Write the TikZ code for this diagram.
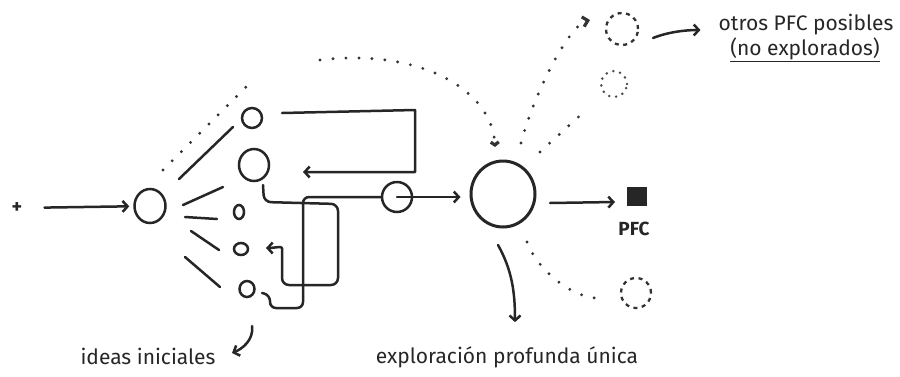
\documentclass[tikz,border=0pt]{standalone}
\usepackage{fontspec}
\setmainfont{Fira Sans}
\usetikzlibrary{arrows.meta,shapes.geometric,calc}
\begin{document}
\begin{tikzpicture}[x=1pt,y=-1pt,
  ink/.style={line width=2.5pt, line cap=round, line join=round, draw=black!85},
  arr/.style={ink, -{Straight Barb[length=5pt,width=11pt]}},
  dots/.style={line width=3.2pt, line cap=round, dash pattern=on 0pt off 13pt, draw=black!80},
  idea/.style={ellipse, draw=black!85, line width=2.5pt, inner sep=0pt},
  dcirc/.style={circle, draw=black!80, line width=2.3pt, dash pattern=on 4pt off 4.5pt, inner sep=0pt, minimum size=#1},
  lbl/.style={font=\fontsize{21}{24}\selectfont, text=black!85, inner sep=0pt}
]
\useasboundingbox (0,0) rectangle (900,376);

% nodes
\node[font=\bfseries\fontsize{20}{20}\selectfont, inner sep=0pt, text=black!85] (plus) at (17,208) {+};
\node[idea, minimum width=31pt, minimum height=34pt] (start) at (150,206) {};
\node[idea, minimum width=20pt, minimum height=20pt] (i1) at (252,118) {};
\node[idea, minimum width=30pt, minimum height=32pt] (i2) at (254,165) {};
\node[idea, minimum width=10pt, minimum height=14pt] (i3) at (239,212) {};
\node[idea, minimum width=14pt, minimum height=12pt] (i4) at (241,249) {};
\node[idea, minimum width=15pt, minimum height=16pt] (i5) at (247,289) {};
\node[idea, minimum width=30pt, minimum height=30pt] (mid) at (397,197) {};
\node[idea, line width=3pt, minimum width=64pt, minimum height=66pt] (big) at (503,194) {};
\node[fill=black!85, draw=black!85, minimum width=19pt, minimum height=18pt, inner sep=0pt] (sq) at (637,196) {};
\node[font=\bfseries\fontsize{19}{19}\selectfont, inner sep=0pt, text=black!85] (pfc) at (634,229) {PFC};
\node[dcirc=32pt] (dc1) at (622,29) {};
\node[dcirc=30pt] (dc2) at (636,293) {};
\node[circle, draw=black!70, line width=2.8pt, line cap=round, dash pattern=on 0pt off 7pt, inner sep=0pt, minimum size=26pt] (dc3) at (614,84) {};

\node[lbl] (oth1) at (806,25) {otros PFC posibles};
\node[lbl] (oth2) at (805,50) {\underline{(no explorados)}};
\node[lbl] (ideas) at (148,356) {ideas iniciales};
\node[lbl] (expl) at (507,357) {exploración profunda única};

% input arrow
\draw[arr, shorten <=22pt, shorten >=4pt] (plus) -- (start);

% fan of lines
\draw[ink] ([shift={(29,-27)}]start.center) -- ([shift={(-19,9)}]i1.center);
\draw[ink] ([shift={(33,-1)}]start.center) -- ([shift={(-31,22)}]i2.center);
\draw[ink] ([shift={(35,11)}]start.center) -- ([shift={(-22,7)}]i3.center);
\draw[ink] ([shift={(41,25)}]start.center) -- ([shift={(-22,1)}]i4.center);
\draw[ink] ([shift={(35,51)}]start.center) -- ([shift={(-27,-2)}]i5.center);
\draw[dots] ([shift={(13,-36)}]start.center) -- ([shift={(-6,-31)}]i1.center);

% loops among ideas
\draw[arr] ([shift={(30,-5)}]i1.center) -- ++(133,-3) |- ([shift={(49,7)}]i2.center);
\draw[arr, rounded corners=7pt] ([shift={(9,20)}]i2.center) -- ++(1,17) -- ++(74,2) -- ++(0,81) -- ++(-56,0) -- ++(0,-30) .. controls +(0,-9) and +(7,0) .. ([shift={(25,-1)}]i4.center);
\draw[ink, rounded corners=6pt] ([shift={(15,4)}]i5.center) -- ++(8,2) -- ++(0,13) -- ++(33,0) |- (mid.west);

% to the deep exploration
\draw[arr, shorten >=9pt] (mid.center) -- (mid.center -| big.west);
\draw[arr] ([shift={(47,9)}]big.center) -- ([shift={(-22,6)}]sq.center);
\draw[arr] ([shift={(-5,51)}]big.center) .. controls +(14,25) and +(0,-30) .. ([shift={(8,-24)}]expl.north);

% dotted alternatives
\coordinate (arc0) at (320,60);
\draw[dots, -{Straight Barb[length=3pt,width=8pt]}] (arc0) .. controls (420,48) and (492,90) .. ([shift={(-8,-47)}]big.center);
\draw[dots, -{Straight Barb[length=5pt,width=10pt]}] ([shift={(18,-51)}]big.center) .. controls +(14,-53) and +(-20,5) .. ([shift={(-32,-9)}]dc1.center);
\draw[dots] ([shift={(37,-42)}]big.center) -- ([shift={(-28,26)}]dc3.center);
\draw[dots] ([shift={(24,48)}]big.center) .. controls +(12,32) and +(-22,2) .. ([shift={(-36,5)}]dc2.center);

% label arrows
\draw[arr] ([shift={(31,9)}]dc1.center) .. controls +(15,-6) and +(-15,0) .. ([shift={(-18,5)}]oth1.west);
\draw[arr] ([shift={(104,-30)}]ideas.center) .. controls +(2,14) and +(10,-4) .. ([shift={(84,-3)}]ideas.center);
\end{tikzpicture}
\end{document}
